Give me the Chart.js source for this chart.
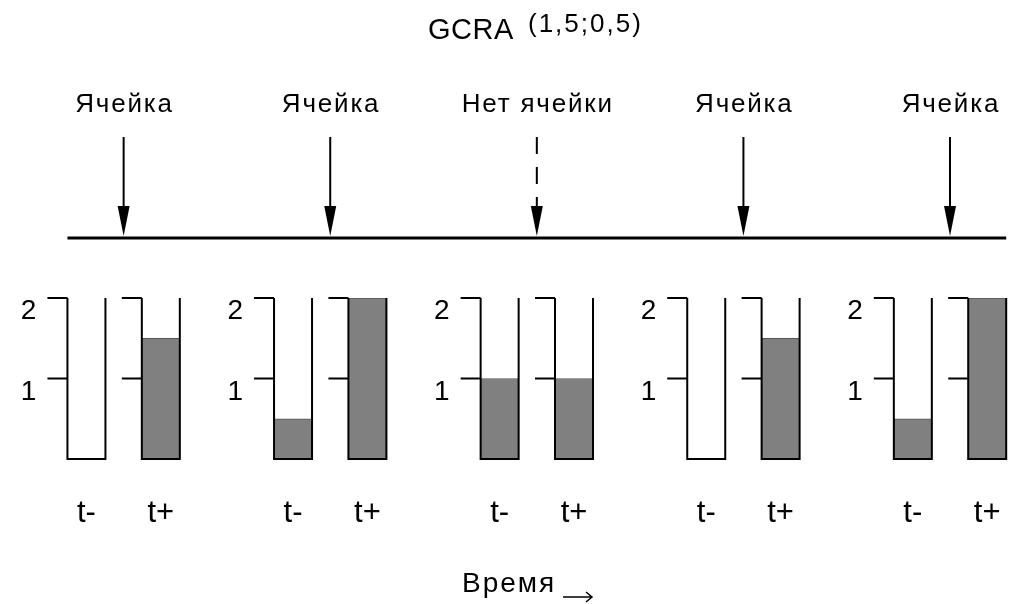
<!DOCTYPE html>
<html>
<head>
<meta charset="utf-8">
<script src="https://cdn.jsdelivr.net/npm/chart.js@4/dist/chart.umd.min.js"></script>
<style>
  html, body { margin: 0; padding: 0; background: #fff; }
  canvas { display: block; }
</style>
</head>
<body>
<canvas id="gcra" width="1015" height="604"></canvas>
<script>
// моменты прихода ячеек (в периодах T)
const cellTimes = [1, 2, 3, 4, 5];
const cellLabels = ['Ячейка', 'Ячейка', 'Нет ячейки', 'Ячейка', 'Ячейка'];
const cellArrived = [true, true, false, true, true];
// заполнение ведра до (t-) и после (t+) момента
const levelBefore = [0, 0.5, 1, 0, 0.5];
const levelAfter = [1.5, 2, 1, 1.5, 2];
const sampleOffset = 0.18;
const bucketTicks = [1, 2];
const bucketCapacity = 2;
const sampleLabels = ['t-', 't+'];

const FONT = '"Liberation Sans", Arial, sans-serif';

const points = [];
cellTimes.forEach((t, i) => {
    points.push({ x: t - sampleOffset, y: levelBefore[i] });
    points.push({ x: t + sampleOffset, y: levelAfter[i] });
});

function drawText(ctx, text, x, y, size, align, spacing) {
    ctx.save();
    ctx.font = size + 'px ' + FONT;
    ctx.letterSpacing = (spacing || 0) + 'px';
    ctx.textAlign = align || 'center';
    ctx.textBaseline = 'alphabetic';
    ctx.fillStyle = '#000';
    let dx = 0;
    if (align === 'center' || !align) dx = (spacing || 0) / 2;
    ctx.fillText(text, x + dx, y);
    ctx.restore();
}

function drawArrow(ctx, x, yTop, yTip, dashed) {
    ctx.save();
    ctx.strokeStyle = '#000';
    ctx.fillStyle = '#000';
    ctx.lineWidth = 2;
    if (dashed) ctx.setLineDash([17, 13]);
    ctx.beginPath();
    ctx.moveTo(x, yTop);
    ctx.lineTo(x, yTip - 26);
    ctx.stroke();
    ctx.setLineDash([]);
    ctx.beginPath();
    ctx.moveTo(x - 6, yTip - 30);
    ctx.lineTo(x + 6, yTip - 30);
    ctx.lineTo(x + 4, yTip - 20);
    ctx.lineTo(x + 2, yTip - 10);
    ctx.lineTo(x, yTip);
    ctx.lineTo(x - 2, yTip - 10);
    ctx.lineTo(x - 4, yTip - 20);
    ctx.closePath();
    ctx.fill();
    ctx.restore();
}

const bucketPlugin = {
    id: 'buckets',
    afterDatasetsDraw(chart) {
        const ctx = chart.ctx;
        const xs = chart.scales.x;
        const ys = chart.scales.y;
        const bars = chart.getDatasetMeta(0).data;
        const y0 = ys.getPixelForValue(0);
        const yTop = ys.getPixelForValue(bucketCapacity);

        ctx.save();
        ctx.strokeStyle = '#000';
        ctx.lineWidth = 2;
        bars.forEach((bar, i) => {
            const left = bar.x - bar.width / 2;
            const right = bar.x + bar.width / 2;
            ctx.beginPath();
            ctx.moveTo(left, yTop);
            ctx.lineTo(left, y0);
            ctx.lineTo(right, y0);
            ctx.lineTo(right, yTop);
            ctx.stroke();
            bucketTicks.forEach(v => {
                const yy = ys.getPixelForValue(v);
                ctx.beginPath();
                ctx.moveTo(left - 20, yy);
                ctx.lineTo(left, yy);
                ctx.stroke();
                if (i % 2 === 0) drawText(ctx, String(v), left - 31, yy + 21, 28, 'right');
            });
            drawText(ctx, sampleLabels[i % 2], bar.x, 522, 31, 'center', 0);
        });

        // ось времени и стрелки прихода ячеек
        const first = bars[0], last = bars[bars.length - 1];
        const lineY = 238;
        ctx.lineWidth = 3;
        ctx.beginPath();
        ctx.moveTo(first.x - first.width / 2, lineY);
        ctx.lineTo(last.x + last.width / 2, lineY);
        ctx.stroke();

        cellTimes.forEach((t, i) => {
            const px = xs.getPixelForValue(t);
            drawArrow(ctx, px, 137, lineY - 2, !cellArrived[i]);
            drawText(ctx, cellLabels[i], px, 112, 26, 'center', 1.8);
        });

        // заголовок
        drawText(ctx, 'GCRA', 428, 39, 29, 'left', 0.5);
        drawText(ctx, '(1,5;0,5)', 528, 32, 26, 'left', 2);

        // подпись оси
        drawText(ctx, 'Время', 462, 592, 28, 'left', 2);
        ctx.lineWidth = 1.5;
        ctx.beginPath();
        ctx.moveTo(563, 597);
        ctx.lineTo(592, 597);
        ctx.moveTo(586, 592);
        ctx.lineTo(592, 597);
        ctx.lineTo(586, 602);
        ctx.stroke();
        ctx.restore();
    }
};

new Chart(document.getElementById('gcra'), {
    type: 'bar',
    data: {
        datasets: [{
            data: points,
            backgroundColor: '#808080',
            borderColor: '#555555',
            borderWidth: 1,
            barThickness: 38
        }]
    },
    options: {
        responsive: false,
        animation: false,
        devicePixelRatio: 1,
        layout: { padding: { top: 298, bottom: 145, left: 10, right: 3 } },
        scales: {
            x: { type: 'linear', min: 0.45, max: 5.3, offset: false, display: false },
            y: { min: 0, max: bucketCapacity, display: false }
        },
        plugins: {
            legend: { display: false },
            tooltip: { enabled: false }
        }
    },
    plugins: [bucketPlugin]
});
</script>
</body>
</html>
